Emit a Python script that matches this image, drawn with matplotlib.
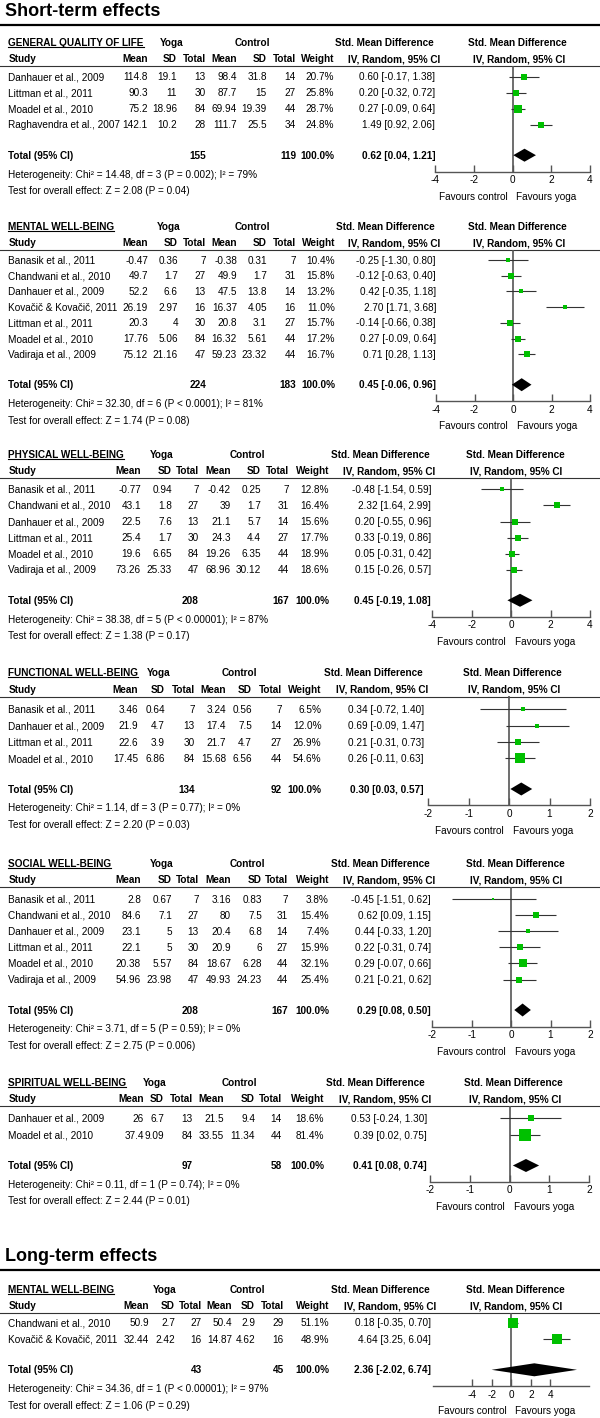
import numpy as np
import matplotlib
matplotlib.use("Agg")
import matplotlib.pyplot as plt

plt.rcParams['font.family'] = ['Liberation Sans', 'DejaVu Sans']
plt.rcParams['axes.unicode_minus'] = False

# rows: study, yoga mean, sd, n, control mean, sd, n, weight %, smd, lower, upper
gqol_rows = [
    ("Danhauer et al., 2009", 114.8, 19.1, 13, 98.4, 31.8, 14, 20.7, 0.60, -0.17, 1.38),
    ("Littman et al., 2011", 90.3, 11, 30, 87.7, 15, 27, 25.8, 0.20, -0.32, 0.72),
    ("Moadel et al., 2010", 75.2, 18.96, 84, 69.94, 19.39, 44, 28.7, 0.27, -0.09, 0.64),
    ("Raghavendra et al., 2007", 142.1, 10.2, 28, 111.7, 25.5, 34, 24.8, 1.49, 0.92, 2.06),
]
gqol_total = (155, 119, 0.62, 0.04, 1.21)
gqol_het = "Heterogeneity: Chi² = 14.48, df = 3 (P = 0.002); I² = 79%"
gqol_test = "Test for overall effect: Z = 2.08 (P = 0.04)"

mental_rows = [
    ("Banasik et al., 2011", -0.47, 0.36, 7, -0.38, 0.31, 7, 10.4, -0.25, -1.30, 0.80),
    ("Chandwani et al., 2010", 49.7, 1.7, 27, 49.9, 1.7, 31, 15.8, -0.12, -0.63, 0.40),
    ("Danhauer et al., 2009", 52.2, 6.6, 13, 47.5, 13.8, 14, 13.2, 0.42, -0.35, 1.18),
    ("Kovačič & Kovačič, 2011", 26.19, 2.97, 16, 16.37, 4.05, 16, 11.0, 2.70, 1.71, 3.68),
    ("Littman et al., 2011", 20.3, 4, 30, 20.8, 3.1, 27, 15.7, -0.14, -0.66, 0.38),
    ("Moadel et al., 2010", 17.76, 5.06, 84, 16.32, 5.61, 44, 17.2, 0.27, -0.09, 0.64),
    ("Vadiraja et al., 2009", 75.12, 21.16, 47, 59.23, 23.32, 44, 16.7, 0.71, 0.28, 1.13),
]
mental_total = (224, 183, 0.45, -0.06, 0.96)
mental_het = "Heterogeneity: Chi² = 32.30, df = 6 (P < 0.0001); I² = 81%"
mental_test = "Test for overall effect: Z = 1.74 (P = 0.08)"

physical_rows = [
    ("Banasik et al., 2011", -0.77, 0.94, 7, -0.42, 0.25, 7, 12.8, -0.48, -1.54, 0.59),
    ("Chandwani et al., 2010", 43.1, 1.8, 27, 39, 1.7, 31, 16.4, 2.32, 1.64, 2.99),
    ("Danhauer et al., 2009", 22.5, 7.6, 13, 21.1, 5.7, 14, 15.6, 0.20, -0.55, 0.96),
    ("Littman et al., 2011", 25.4, 1.7, 30, 24.3, 4.4, 27, 17.7, 0.33, -0.19, 0.86),
    ("Moadel et al., 2010", 19.6, 6.65, 84, 19.26, 6.35, 44, 18.9, 0.05, -0.31, 0.42),
    ("Vadiraja et al., 2009", 73.26, 25.33, 47, 68.96, 30.12, 44, 18.6, 0.15, -0.26, 0.57),
]
physical_total = (208, 167, 0.45, -0.19, 1.08)
physical_het = "Heterogeneity: Chi² = 38.38, df = 5 (P < 0.00001); I² = 87%"
physical_test = "Test for overall effect: Z = 1.38 (P = 0.17)"

functional_rows = [
    ("Banasik et al., 2011", 3.46, 0.64, 7, 3.24, 0.56, 7, 6.5, 0.34, -0.72, 1.40),
    ("Danhauer et al., 2009", 21.9, 4.7, 13, 17.4, 7.5, 14, 12.0, 0.69, -0.09, 1.47),
    ("Littman et al., 2011", 22.6, 3.9, 30, 21.7, 4.7, 27, 26.9, 0.21, -0.31, 0.73),
    ("Moadel et al., 2010", 17.45, 6.86, 84, 15.68, 6.56, 44, 54.6, 0.26, -0.11, 0.63),
]
functional_total = (134, 92, 0.30, 0.03, 0.57)
functional_het = "Heterogeneity: Chi² = 1.14, df = 3 (P = 0.77); I² = 0%"
functional_test = "Test for overall effect: Z = 2.20 (P = 0.03)"

social_rows = [
    ("Banasik et al., 2011", 2.8, 0.67, 7, 3.16, 0.83, 7, 3.8, -0.45, -1.51, 0.62),
    ("Chandwani et al., 2010", 84.6, 7.1, 27, 80, 7.5, 31, 15.4, 0.62, 0.09, 1.15),
    ("Danhauer et al., 2009", 23.1, 5, 13, 20.4, 6.8, 14, 7.4, 0.44, -0.33, 1.20),
    ("Littman et al., 2011", 22.1, 5, 30, 20.9, 6, 27, 15.9, 0.22, -0.31, 0.74),
    ("Moadel et al., 2010", 20.38, 5.57, 84, 18.67, 6.28, 44, 32.1, 0.29, -0.07, 0.66),
    ("Vadiraja et al., 2009", 54.96, 23.98, 47, 49.93, 24.23, 44, 25.4, 0.21, -0.21, 0.62),
]
social_total = (208, 167, 0.29, 0.08, 0.50)
social_het = "Heterogeneity: Chi² = 3.71, df = 5 (P = 0.59); I² = 0%"
social_test = "Test for overall effect: Z = 2.75 (P = 0.006)"

spiritual_rows = [
    ("Danhauer et al., 2009", 26, 6.7, 13, 21.5, 9.4, 14, 18.6, 0.53, -0.24, 1.30),
    ("Moadel et al., 2010", 37.4, 9.09, 84, 33.55, 11.34, 44, 81.4, 0.39, 0.02, 0.75),
]
spiritual_total = (97, 58, 0.41, 0.08, 0.74)
spiritual_het = "Heterogeneity: Chi² = 0.11, df = 1 (P = 0.74); I² = 0%"
spiritual_test = "Test for overall effect: Z = 2.44 (P = 0.01)"

lt_mental_rows = [
    ("Chandwani et al., 2010", 50.9, 2.7, 27, 50.4, 2.9, 29, 51.1, 0.18, -0.35, 0.70),
    ("Kovačič & Kovačič, 2011", 32.44, 2.42, 16, 14.87, 4.62, 16, 48.9, 4.64, 3.25, 6.04),
]
lt_mental_total = (43, 45, 2.36, -2.02, 6.74)
lt_mental_het = "Heterogeneity: Chi² = 34.36, df = 1 (P < 0.00001); I² = 97%"
lt_mental_test = "Test for overall effect: Z = 1.06 (P = 0.29)"

# layout in output pixels
W, H = 600, 1418
GREEN = '#00c000'
FS = 7.2

fig = plt.figure(figsize=(W / 100, H / 100), dpi=100)
bg = fig.add_axes([0, 0, 1, 1])
bg.set_xlim(0, W)
bg.set_ylim(H, 0)
bg.axis('off')

underlined = []


def txt(x, y, s, ha='left', bold=False, size=FS):
    return bg.text(x, y + 3.6, s, ha=ha, va='baseline', fontsize=size,
                   fontweight='bold' if bold else 'normal', color='black')


def fmt(v):
    return f"{v:g}"


def panel(title, rows, total, het, test, lay):
    ty, r0, step = lay['title_y'], lay['row0'], lay['step']
    cols = lay['cols']
    lo, hi = lay['xlim']
    fx0, fx1 = lay['fx']
    n = len(rows)

    # header
    underlined.append((txt(8.3, ty, title, bold=True), ty + 4.6))
    txt(lay['yoga_x'], ty, "Yoga", ha='center', bold=True)
    txt(lay['ctrl_x'], ty, "Control", ha='center', bold=True)
    txt(lay['smd1_x'], ty, "Std. Mean Difference", ha='center', bold=True)
    txt(lay['smd2_x'], ty, "Std. Mean Difference", ha='center', bold=True)
    sy = ty + 16.5
    txt(8.3, sy, "Study", bold=True)
    for c, h in zip(cols[:7], ["Mean", "SD", "Total", "Mean", "SD", "Total", "Weight"]):
        txt(c, sy, h, ha='right', bold=True)
    txt(lay['smd1_x'] + 9, sy, "IV, Random, 95% CI", ha='center', bold=True)
    txt(lay['smd2_x'] + 1.5, sy, "IV, Random, 95% CI", ha='center', bold=True)
    sep_y = ty + 23.8
    bg.plot([0, W], [sep_y, sep_y], color='#333333', lw=0.8)

    # study rows
    for i, r in enumerate(rows):
        y = r0 + i * step
        txt(8.3, y, r[0])
        for c, v in zip(cols[:6], r[1:7]):
            txt(c, y, fmt(v), ha='right')
        txt(cols[6], y, f"{r[7]:.1f}%", ha='right')
        txt(cols[7], y, f"{r[8]:.2f} [{r[9]:.2f}, {r[10]:.2f}]", ha='right')

    tot_y = r0 + (n - 1) * step + 30.5
    txt(8.3, tot_y, "Total (95% CI)", bold=True)
    txt(cols[2], tot_y, str(total[0]), ha='right', bold=True)
    txt(cols[5], tot_y, str(total[1]), ha='right', bold=True)
    txt(cols[6], tot_y, "100.0%", ha='right', bold=True)
    txt(cols[7], tot_y, f"{total[2]:.2f} [{total[3]:.2f}, {total[4]:.2f}]", ha='right', bold=True)
    txt(8.3, tot_y + 18.8, het)
    txt(8.3, tot_y + 35.3, test)

    # forest plot
    axis_y = tot_y + 16.5
    ax = fig.add_axes([fx0 / W, 1 - axis_y / H, (fx1 - fx0) / W, (axis_y - sep_y) / H])
    ax.patch.set_visible(False)
    ax.set_xlim(lo, hi)
    ax.set_ylim((axis_y - r0) / step, (sep_y - r0) / step)
    for s in ['top', 'left', 'right']:
        ax.spines[s].set_visible(False)
    ax.spines['bottom'].set_color('#555555')
    ax.spines['bottom'].set_linewidth(1.0)
    ax.set_yticks([])
    ax.set_xticks(lay['ticks'])
    ax.set_xticklabels([f"{t:g}" for t in lay['ticks']])
    ax.tick_params(axis='x', direction='in', length=5, width=1.0, color='#555555',
                   pad=2.5, labelsize=FS)
    ax.axvline(0, color='#555555', lw=1.2, zorder=1)
    for i, r in enumerate(rows):
        ax.hlines(i, r[9], r[10], color='#333333', lw=0.8, zorder=2, clip_on=False)
        ax.plot(r[8], i, 's', ms=0.95 * np.sqrt(r[7]), color=GREEN, mew=0,
                zorder=3, clip_on=False)
    yt = (tot_y - r0) / step
    h = 6.5 / step
    ax.fill([total[3], total[2], total[4], total[2]], [yt, yt - h, yt, yt + h],
            color='black', lw=0, zorder=3, clip_on=False)
    zx = fx0 + (0 - lo) / (hi - lo) * (fx1 - fx0)
    txt(zx - 5, axis_y + 24.5, "Favours control", ha='right')
    txt(zx + 4, axis_y + 24.5, "Favours yoga")


lay_gqol = dict(title_y=42.3, row0=76.7, step=16, cols=[148, 177, 206, 237, 267, 296, 334, 435],
                yoga_x=172, ctrl_x=252, smd1_x=384.7, smd2_x=517.5,
                fx=(435, 590), xlim=(-4, 4), ticks=[-4, -2, 0, 2, 4])
lay_mental = dict(title_y=226, row0=260, step=15.7, cols=[148, 178, 206, 237, 267, 296, 335, 436],
                  yoga_x=169, ctrl_x=252, smd1_x=385.3, smd2_x=517.5,
                  fx=(436, 590), xlim=(-4, 4), ticks=[-4, -2, 0, 2, 4])
lay_physical = dict(title_y=454.3, row0=489.3, step=16.1, cols=[141, 172, 199, 231, 261, 289, 329, 431],
                    yoga_x=162, ctrl_x=247, smd1_x=380, smd2_x=515,
                    fx=(432.3, 590), xlim=(-4, 4), ticks=[-4, -2, 0, 2, 4])
lay_functional = dict(title_y=672.7, row0=709.3, step=16.4, cols=[138, 165, 195, 226, 252, 282, 321.5, 424],
                      yoga_x=159, ctrl_x=239, smd1_x=373.2, smd2_x=512.5,
                      fx=(428.3, 590), xlim=(-2, 2), ticks=[-2, -1, 0, 1, 2])
lay_social = dict(title_y=863.3, row0=899, step=16.1, cols=[141, 172, 199, 231, 262, 288, 329, 431],
                  yoga_x=162, ctrl_x=247, smd1_x=380, smd2_x=515,
                  fx=(432.3, 590), xlim=(-2, 2), ticks=[-2, -1, 0, 1, 2])
lay_spiritual = dict(title_y=1082.3, row0=1118.3, step=16.7, cols=[144, 164, 193, 224, 255, 282, 324, 427],
                     yoga_x=155, ctrl_x=239, smd1_x=375.8, smd2_x=513.7,
                     fx=(430, 589.3), xlim=(-2, 2), ticks=[-2, -1, 0, 1, 2])
lay_lt_mental = dict(title_y=1289, row0=1322.7, step=16.6, cols=[149, 175, 202, 232, 255, 284, 329, 431],
                     yoga_x=164.5, ctrl_x=247.5, smd1_x=380.8, smd2_x=515,
                     fx=(433.3, 589.3), xlim=(-8, 8), ticks=[-4, -2, 0, 2, 4])

# section titles
bg.text(5, 16, "Short-term effects", fontsize=13, fontweight='bold', va='baseline')
bg.plot([0, W], [25, 25], color='black', lw=1.6)
bg.text(5, 1261, "Long-term effects", fontsize=13, fontweight='bold', va='baseline')
bg.plot([0, W], [1270, 1270], color='black', lw=1.6)

panel("GENERAL QUALITY OF LIFE", gqol_rows, gqol_total, gqol_het, gqol_test, lay_gqol)
panel("MENTAL WELL-BEING", mental_rows, mental_total, mental_het, mental_test, lay_mental)
panel("PHYSICAL WELL-BEING", physical_rows, physical_total, physical_het, physical_test, lay_physical)
panel("FUNCTIONAL WELL-BEING", functional_rows, functional_total, functional_het, functional_test, lay_functional)
panel("SOCIAL WELL-BEING", social_rows, social_total, social_het, social_test, lay_social)
panel("SPIRITUAL WELL-BEING", spiritual_rows, spiritual_total, spiritual_het, spiritual_test, lay_spiritual)
panel("MENTAL WELL-BEING", lt_mental_rows, lt_mental_total, lt_mental_het, lt_mental_test, lay_lt_mental)

# underline the outcome headings
fig.canvas.draw()
inv = bg.transData.inverted()
for t, uy in underlined:
    bb = t.get_window_extent()
    x0 = inv.transform((bb.x0, bb.y0))[0]
    x1 = inv.transform((bb.x1, bb.y0))[0]
    bg.plot([x0, x1], [uy, uy], color='black', lw=0.8)

fig.savefig("out.png", dpi=100)
